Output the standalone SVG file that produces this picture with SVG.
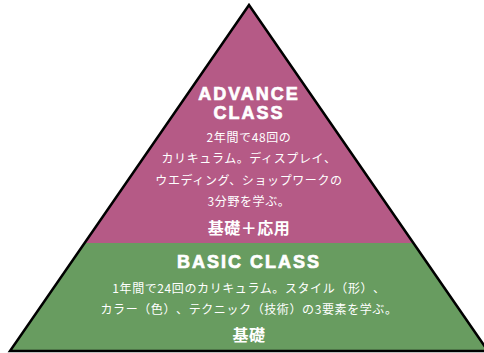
<svg xmlns="http://www.w3.org/2000/svg" width="484" height="353" viewBox="0 0 484 353">
<style>
.head{font-family:"Liberation Sans",Arial,sans-serif;font-weight:bold;font-size:18px;fill:#fff;stroke:#fff;stroke-width:0.7;text-anchor:middle;letter-spacing:2px}
.body{font-family:"Noto Sans CJK JP","Noto Sans",sans-serif;font-size:12px;fill:#fff;text-anchor:middle;letter-spacing:0.6px;text-spacing-trim:space-all;font-feature-settings:"chws" 0,"halt" 0}
.tag{font-family:"Noto Sans CJK JP","Noto Sans",sans-serif;font-weight:bold;font-size:16px;fill:#fff;text-anchor:middle;letter-spacing:0.5px}
.edge{fill:none;stroke:#000;stroke-width:2.5;stroke-linejoin:miter}
</style>
<rect width="484" height="353" fill="#fff"/>
<g id="advance">
<polygon points="249,5 85,243 413,243" fill="#b55a86"/>
<text class="head" x="249" y="100">ADVANCE</text>
<text class="head" x="249" y="119">CLASS</text>
<text class="body" x="249" y="142">2年間で48回の</text>
<text class="body" x="249" y="163">カリキュラム。ディスプレイ、</text>
<text class="body" x="249" y="185">ウエディング、ショップワークの</text>
<text class="body" x="249" y="206">3分野を学ぶ。</text>
<text class="tag" x="249" y="234">基礎＋応用</text>
</g>
<g id="basic">
<polygon points="85,243 413,243 488,351 10,351" fill="#689c60"/>
<text class="head" x="249" y="268">BASIC CLASS</text>
<text class="body" x="249" y="293">1年間で24回のカリキュラム。スタイル（形）、</text>
<text class="body" x="249" y="314">カラー（色）、テクニック（技術）の3要素を学ぶ。</text>
<text class="tag" x="249" y="341">基礎</text>
</g>
<g id="connectors">
<polygon class="edge" points="249,5 488,351 10,351"/>
</g>
</svg>
